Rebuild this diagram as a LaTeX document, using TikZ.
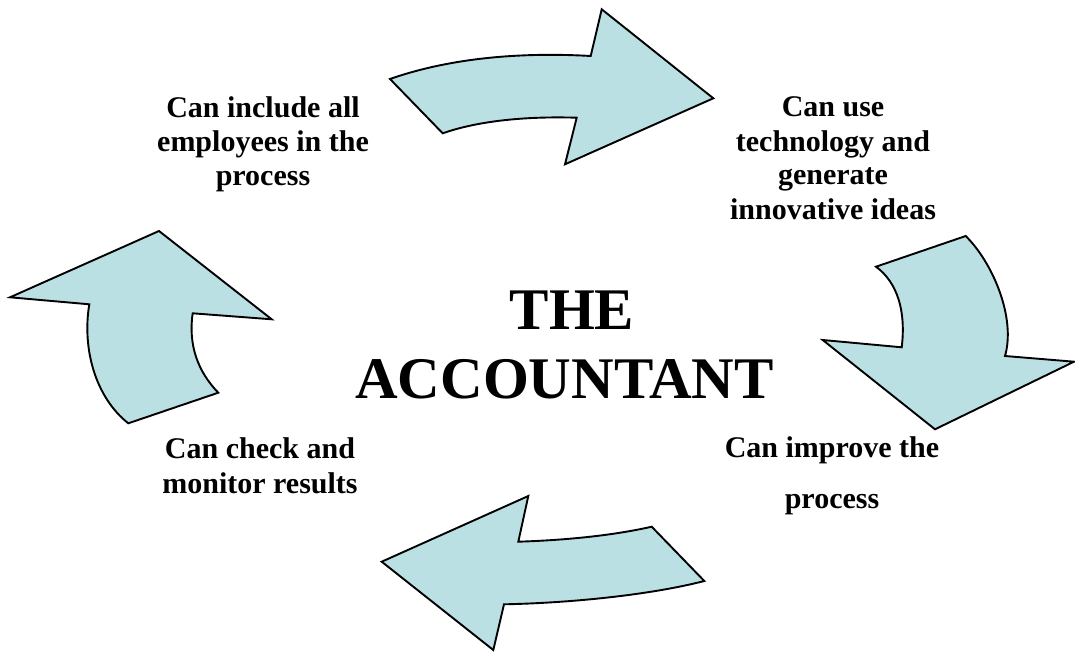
\documentclass[tikz,border=0pt]{standalone}
\usepackage{fontspec}
\setmainfont{Liberation Serif}
\definecolor{arrowfill}{RGB}{187,224,227}
\begin{document}
\begin{tikzpicture}[x=1pt,y=-1pt,
  bigarrow/.style={draw=black, line width=1.9pt, fill=arrowfill, line join=miter},
  lbl/.style={anchor=base, inner sep=0pt, font=\fontsize{30}{34}\selectfont\bfseries},
  title/.style={anchor=base, inner sep=0pt, font=\fontsize{59}{69}\selectfont\bfseries}]
\useasboundingbox (0,0) rectangle (1075,652);
% top arrow
\draw[bigarrow] (390,79) .. controls (450,58) and (520,52) .. (590.7,56)
  -- (601.7,9.3) -- (713.3,98.3) -- (565,164.3) -- (576.7,117.7)
  .. controls (520,116) and (475,122) .. (442.7,133.3) -- cycle;
% right arrow
\draw[bigarrow] (876,266.7) -- (965.7,236) .. controls (993,263) and (1016,318) .. (1005,356)
  -- (1074,361.7) -- (935,429.3) -- (822.7,340) -- (901.7,347.3)
  .. controls (906,312) and (898,283) .. (876,266.7) -- cycle;
% bottom arrow
\draw[bigarrow] (381.7,561.7) -- (528.3,496) -- (518.3,541.7)
  .. controls (570,540) and (615,535) .. (651.7,526.7) -- (704.3,581)
  .. controls (650,595) and (570,603) .. (504,604.3) -- (493.3,650) -- cycle;
% left arrow
\draw[bigarrow] (10,297.3) -- (159,231) -- (271.7,319.3) -- (192.7,313.3)
  .. controls (188,345) and (198,372) .. (218.3,392.7) -- (128.3,423.3)
  .. controls (95,397) and (82,348) .. (89.3,304.3) -- cycle;
% labels
\node[lbl] (tl1) at (263,118) {Can include all};
\node[lbl] (tl2) at (263,152) {employees in the};
\node[lbl] (tl3) at (263,186) {process};
\node[lbl] (tr1) at (833,117) {Can use};
\node[lbl] (tr2) at (833,152) {technology and};
\node[lbl] (tr3) at (833,185) {generate};
\node[lbl] (tr4) at (833,219.5) {innovative ideas};
\node[lbl] (bl1) at (260,458) {Can check and};
\node[lbl] (bl2) at (260,493) {monitor results};
\node[lbl] (br1) at (832,457) {Can improve the};
\node[lbl] (br2) at (832,508) {process};
\node[title] (t1) at (572,329) {THE};
\node[title] (t2) at (564.5,398) {ACCOUNTANT};
\end{tikzpicture}
\end{document}
